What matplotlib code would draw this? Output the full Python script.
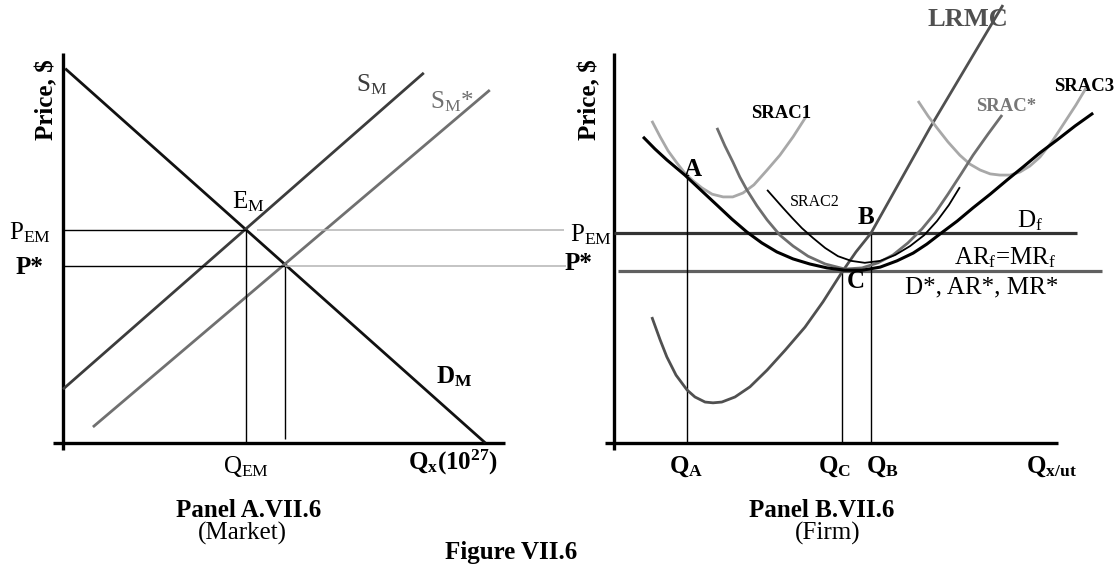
import matplotlib
matplotlib.use("Agg")
import matplotlib.pyplot as plt

plt.rcParams['font.family'] = ['Liberation Serif', 'DejaVu Serif']
plt.rcParams['mathtext.fontset'] = 'custom'
plt.rcParams['mathtext.rm'] = 'Liberation Serif'
plt.rcParams['mathtext.it'] = 'Liberation Serif'
plt.rcParams['mathtext.bf'] = 'Liberation Serif:bold'

# ---- Panel A (market) : quantity / price units ----
demand_q = [0.05, 9.6]
demand_p = [9.6, 0.0]
supply_q = [0.0, 8.2]
supply_p = [1.38, 9.49]
supply2_q = [0.68, 9.7]
supply2_p = [0.41, 9.05]
p_em, q_em = 5.46, 4.16
p_star, q_star = 4.54, 5.05
gray_end = 11.38

# ---- Panel B (firm) ----
p_f = 5.38
p_star_b = 4.41
q_a, p_a = 1.66, 6.92
q_c = 5.18
q_b = 5.84

lrac_q = [0.66, 0.93, 1.20, 1.61, 1.95, 2.34, 2.68, 3.02, 3.36, 3.70, 4.07, 4.45, 4.84, 5.25,
          5.64, 6.05, 6.43, 6.80, 7.11, 7.41, 7.80, 8.16, 8.55, 8.93, 9.30, 9.68, 10.07, 10.48, 10.89]
lrac_p = [7.85, 7.54, 7.26, 6.87, 6.51, 6.10, 5.74, 5.41, 5.13, 4.90, 4.72, 4.59, 4.49, 4.43,
          4.43, 4.51, 4.67, 4.87, 5.10, 5.36, 5.69, 6.03, 6.38, 6.74, 7.08, 7.44, 7.77, 8.13, 8.46]

srac1_q = [0.86, 1.05, 1.23, 1.43, 1.61, 1.80, 2.00, 2.23, 2.48, 2.70, 2.93, 3.18, 3.48, 3.77, 4.07, 4.36]
srac1_p = [8.26, 7.85, 7.49, 7.18, 6.92, 6.72, 6.54, 6.38, 6.31, 6.31, 6.41, 6.62, 7.00, 7.38, 7.85, 8.36]

srac_star_q = [2.34, 2.52, 2.70, 2.86, 3.02, 3.25, 3.48, 3.77, 4.07, 4.41, 4.80, 5.25, 5.64, 6.00,
               6.34, 6.68, 7.00, 7.30, 7.59, 7.89, 8.16, 8.50, 8.82]
srac_star_p = [8.08, 7.62, 7.21, 6.82, 6.49, 6.08, 5.72, 5.33, 5.05, 4.79, 4.59, 4.46, 4.49, 4.62,
               4.82, 5.13, 5.49, 5.90, 6.38, 6.90, 7.38, 7.92, 8.41]

srac2_q = [3.48, 3.66, 3.84, 4.05, 4.27, 4.52, 4.80, 5.09, 5.39, 5.70, 6.05, 6.39, 6.73, 7.05, 7.34, 7.61, 7.86]
srac2_p = [6.49, 6.26, 6.03, 5.77, 5.51, 5.26, 5.00, 4.79, 4.67, 4.62, 4.67, 4.82, 5.05, 5.33, 5.69, 6.10, 6.56]

srac3_q = [6.91, 7.14, 7.34, 7.59, 7.86, 8.09, 8.32, 8.55, 8.77, 9.00, 9.23, 9.45, 9.68, 9.95, 10.20, 10.50, 10.77]
srac3_p = [8.77, 8.38, 8.08, 7.72, 7.38, 7.15, 7.00, 6.90, 6.87, 6.87, 6.95, 7.10, 7.33, 7.72, 8.15, 8.67, 9.18]

lrmc_q = [0.86, 1.05, 1.20, 1.41, 1.66, 1.84, 2.07, 2.25, 2.45, 2.75, 3.09, 3.48, 3.89, 4.34,
          4.75, 5.18, 5.50, 5.84, 7.18, 8.84]
lrmc_p = [3.23, 2.64, 2.21, 1.74, 1.36, 1.18, 1.05, 1.03, 1.05, 1.18, 1.44, 1.87, 2.38, 2.97,
          3.62, 4.38, 4.90, 5.38, 8.08, 11.23]

fig = plt.figure(figsize=(11.17, 5.68), dpi=100)
W, H = 1117, 568
axA = fig.add_axes([63 / W, (H - 443) / H, 440 / W, 390 / H])
axB = fig.add_axes([614 / W, (H - 443) / H, 440 / W, 390 / H])
for ax in (axA, axB):
    ax.set_xlim(0, 10)
    ax.set_ylim(0, 10)
    ax.axis('off')

FS = 18
kw = dict(clip_on=False, solid_capstyle='butt', solid_joinstyle='round')

# Panel A
axA.plot([0, 0], [-0.18, 10], color='black', lw=2.4, **kw)
axA.plot([-0.23, 10.05], [0, 0], color='black', lw=2.4, **kw)
axA.plot(demand_q, demand_p, color='#111111', lw=2.0, **kw)
axA.plot(supply_q, supply_p, color='#3c3c3c', lw=2.0, **kw)
axA.plot(supply2_q, supply2_p, color='#707070', lw=2.0, **kw)
axA.plot([0, q_em], [p_em, p_em], color='black', lw=1.0, **kw)
axA.plot([0, q_star], [p_star, p_star], color='black', lw=1.0, **kw)
axA.plot([q_em, q_em], [0, p_em], color='black', lw=1.0, **kw)
axA.plot([q_star, q_star], [0.1, p_star], color='black', lw=1.0, **kw)
axA.plot([4.41, gray_end], [p_em, p_em], color='#b4b4b4', lw=1.1, **kw)
axA.plot([q_star, gray_end + 0.05], [p_star, p_star], color='#b4b4b4', lw=1.1, **kw)

axA.text(-0.36, 8.8, 'Price, $', rotation=90, fontsize=FS, fontweight='bold', ha='center', va='center')
axA.text(-0.75, p_em - 0.08, r'P$_\mathrm{EM}$', fontsize=FS, ha='center', va='center')
axA.text(-0.77, p_star - 0.05, 'P*', fontsize=FS, fontweight='bold', ha='center', va='center')
axA.text(4.2, 6.18, r'E$_\mathrm{M}$', fontsize=FS, ha='center', va='center')
axA.text(7.02, 9.2, r'S$_\mathrm{M}$', fontsize=FS, ha='center', va='center', color='#3c3c3c')
axA.text(8.84, 8.75, r'S$_\mathrm{M}$*', fontsize=FS, ha='center', va='center', color='#707070')
axA.text(8.9, 1.7, r'$\mathbf{D_M}$', fontsize=FS, ha='center', va='center')
axA.text(4.16, -0.6, r'Q$_\mathrm{EM}$', fontsize=FS, ha='center', va='center')
axA.text(8.86, -0.5, r'$\mathbf{Q_x(10^{27})}$', fontsize=FS, ha='center', va='center')
axA.text(4.23, -1.72, 'Panel A.VII.6', fontsize=FS, fontweight='bold', ha='center', va='center')
axA.text(4.07, -2.33, '(Market)', fontsize=FS, ha='center', va='center')

# Panel B
axB.plot([0, 0], [-0.18, 10], color='black', lw=2.4, **kw)
axB.plot([-0.2, 10.1], [0, 0], color='black', lw=2.4, **kw)
axB.plot([0, 10.52], [p_f, p_f], color='#333333', lw=2.3, **kw)
axB.plot([0.09, 11.1], [p_star_b, p_star_b], color='#606060', lw=2.3, **kw)
axB.plot([q_a, q_a], [0, p_a], color='black', lw=1.0, **kw)
axB.plot([q_c, q_c], [0, p_star_b], color='black', lw=1.0, **kw)
axB.plot([q_b, q_b], [0, p_f], color='black', lw=1.0, **kw)
axB.plot(lrmc_q, lrmc_p, color='#505050', lw=2.0, **kw)
axB.plot(srac1_q, srac1_p, color='#a8a8a8', lw=2.0, **kw)
axB.plot(srac3_q, srac3_p, color='#a8a8a8', lw=2.0, **kw)
axB.plot(srac_star_q, srac_star_p, color='#6e6e6e', lw=2.0, **kw)
axB.plot(srac2_q, srac2_p, color='black', lw=1.3, **kw)
axB.plot(lrac_q, lrac_p, color='black', lw=2.2, **kw)

axB.text(-0.55, 8.8, 'Price, $', rotation=90, fontsize=FS, fontweight='bold', ha='center', va='center')
axB.text(-0.52, p_f - 0.05, r'P$_\mathrm{EM}$', fontsize=FS, ha='center', va='center')
axB.text(-0.8, p_star_b + 0.2, 'P*', fontsize=FS, fontweight='bold', ha='center', va='center')
axB.text(8.05, 10.85, 'LRMC', fontsize=FS + 1, fontweight='bold', ha='center', va='center', color='#505050')
axB.text(3.8, 8.46, 'SRAC1', fontsize=13.5, fontweight='bold', ha='center', va='center')
axB.text(4.57, 6.18, 'SRAC2', fontsize=11.5, ha='center', va='center')
axB.text(8.91, 8.62, 'SRAC*', fontsize=13.5, fontweight='bold', ha='center', va='center', color='#777777')
axB.text(10.68, 9.13, 'SRAC3', fontsize=13.5, fontweight='bold', ha='center', va='center')
axB.text(1.8, 7.0, 'A', fontsize=FS, fontweight='bold', ha='center', va='center')
axB.text(5.73, 5.79, 'B', fontsize=FS, fontweight='bold', ha='center', va='center')
axB.text(5.5, 4.15, 'C', fontsize=FS, fontweight='bold', ha='center', va='center')
axB.text(9.45, 5.7, r'D$_\mathrm{f}$', fontsize=FS, ha='center', va='center')
axB.text(8.89, 4.74, r'AR$_\mathrm{f}$=MR$_\mathrm{f}$', fontsize=FS, ha='center', va='center')
axB.text(8.36, 3.98, 'D*, AR*, MR*', fontsize=FS, ha='center', va='center')
axB.text(q_a - 0.02, -0.62, r'$\mathbf{Q_A}$', fontsize=FS, ha='center', va='center')
axB.text(5.02, -0.62, r'$\mathbf{Q_C}$', fontsize=FS, ha='center', va='center')
axB.text(6.09, -0.62, r'$\mathbf{Q_B}$', fontsize=FS, ha='center', va='center')
axB.text(9.95, -0.62, r'$\mathbf{Q_{x/ut}}$', fontsize=FS, ha='center', va='center')
axB.text(4.73, -1.72, 'Panel B.VII.6', fontsize=FS, fontweight='bold', ha='center', va='center')
axB.text(4.86, -2.31, '(Firm)', fontsize=FS, ha='center', va='center')

fig.text(511 / W, 1 - 553 / H, 'Figure VII.6', fontsize=FS, fontweight='bold', ha='center', va='center')

fig.savefig('out.png', dpi=100, facecolor='white')
